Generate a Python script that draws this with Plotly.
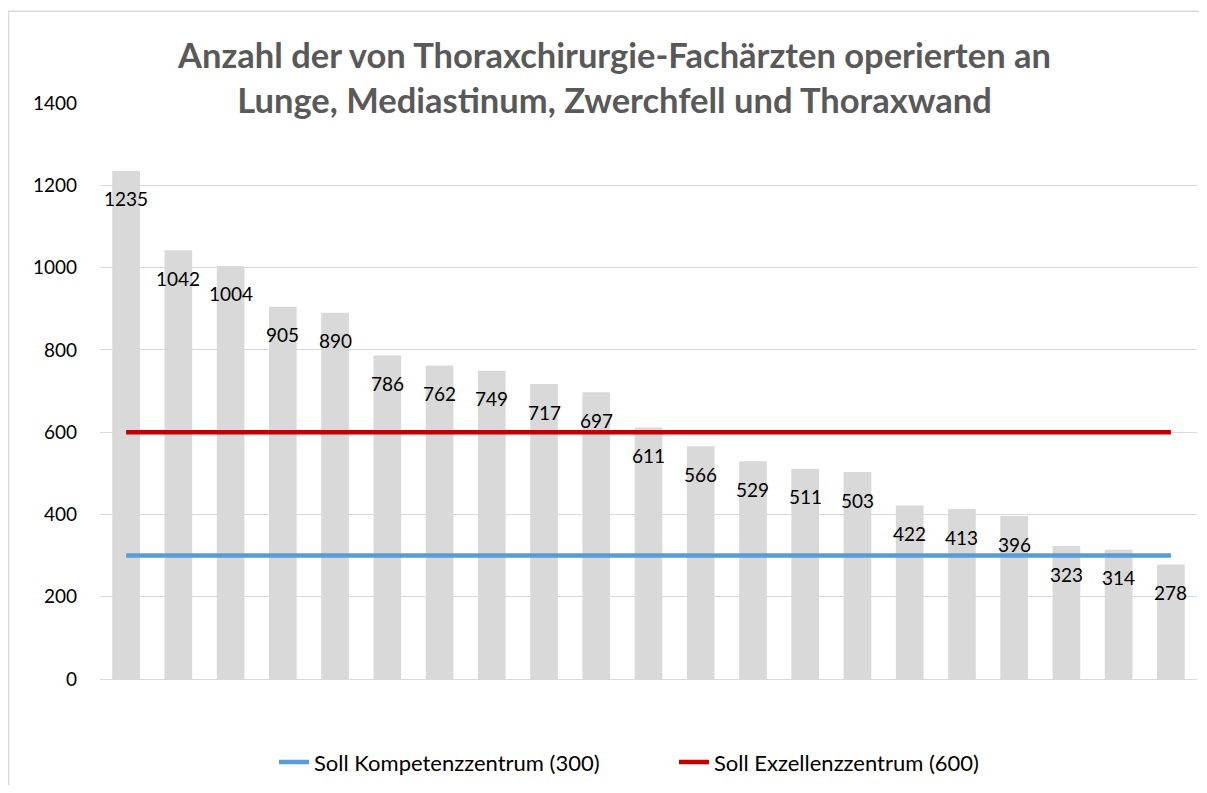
import plotly.graph_objects as go

values = [1235, 1042, 1004, 905, 890, 786, 762, 749, 717, 697, 611,
          566, 529, 511, 503, 422, 413, 396, 323, 314, 278]
categories = list(range(1, len(values) + 1))
line_names = ["Soll Kompetenzzentrum (300)", "Soll Exzellenzzentrum (600)"]
line_values = [300, 600]
line_colors = ["#5B9BD5", "#C00000"]
title_lines = ["Anzahl der von Thoraxchirurgie-Fachärzten operierten an",
               "Lunge, Mediastinum, Zwerchfell und Thoraxwand"]
y_ticks = [0, 200, 400, 600, 800, 1000, 1200, 1400]

FONT = "Lato"
OFF = 8  # page body margin
W, H = 1207 - 2 * OFF, 793 - 2 * OFF
L, T = 100 - OFF, 103 - OFF
R = (OFF + W) - 1197
B = (OFF + H) - 684
pw, ph = W - L - R, H - T - B

def px_x(x):  # x in screenshot pixels
    return (x - OFF - L) / pw

def px_y(y):  # y in screenshot pixels
    return (H - B - (y - OFF)) / ph

fig = go.Figure()
fig.add_trace(go.Bar(x=categories, y=values, marker_color="#D9D9D9",
                     marker_line_width=0, width=0.53, showlegend=False,
                     hoverinfo="y"))
for name, v, c in zip(line_names, line_values, line_colors):
    fig.add_trace(go.Scatter(x=[categories[0], categories[-1]], y=[v, v],
                             mode="lines", name=name,
                             line=dict(color=c, width=4.5)))

for c, v in zip(categories, values):
    fig.add_annotation(x=c, y=v, text=str(v), showarrow=False,
                       yanchor="middle", yshift=-28,
                       font=dict(family=FONT, size=19, color="#000000"))

fig.add_annotation(xref="paper", yref="paper", x=px_x(614), y=px_y(77),
                   text="<br>".join(title_lines), showarrow=False,
                   xanchor="center", yanchor="middle",
                   font=dict(family=FONT, size=34.5, color="#595959",
                             weight="bold"))

# chart-area frame: only the top and left edges are visible in the reference
fx0, fy0, fx1, fy1 = px_x(8.5), px_y(830), px_x(1230), px_y(10.5)
fig.add_shape(type="path", xref="paper", yref="paper",
              path=f"M {fx0},{fy0} L {fx0},{fy1} L {fx1},{fy1}",
              line=dict(color="#D9D9D9", width=1.5), layer="below")

fig.update_layout(
    width=W, height=H,
    margin=dict(l=L, r=R, t=T, b=B, pad=0),
    plot_bgcolor="white", paper_bgcolor="white",
    font=dict(family=FONT, size=19, color="#000000"),
    bargap=0.47,
    legend=dict(orientation="h", xanchor="left", yanchor="middle",
                x=px_x(274), y=px_y(768), itemwidth=30,
                entrywidth=355,
                font=dict(family=FONT, size=22, color="#000000")),
    xaxis=dict(range=[0.5, len(values) + 0.5], showticklabels=False,
               showgrid=False, zeroline=False, showline=False, ticks=""),
    yaxis=dict(range=[0, 1400], tickvals=y_ticks, showgrid=True,
               gridcolor="#D9D9D9", gridwidth=1, zeroline=True,
               zerolinecolor="#D9D9D9", zerolinewidth=1, ticks="",
               ticklabelstandoff=22, showline=False),
)
fig.write_html("out.html")
